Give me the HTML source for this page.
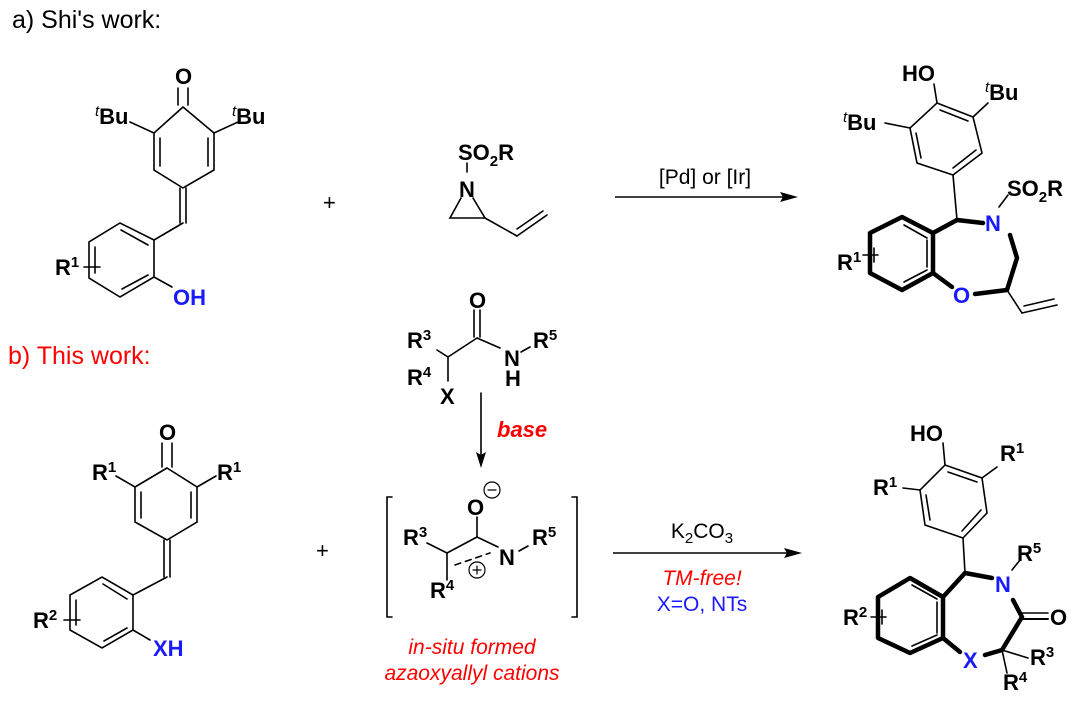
<!DOCTYPE html>
<html><head><meta charset="utf-8"><style>
html,body{margin:0;padding:0;background:#fff;}
svg{display:block;}
text{font-family:"Liberation Sans",Arial,sans-serif;}
.a{font-weight:bold;font-size:22px;fill:#000;}
.b{fill:#1a1aff;}
.sup{font-size:15px;}
.it{font-style:italic;font-weight:normal;}
.t{stroke:#000;stroke-width:1.6;fill:none;stroke-linecap:round;}
.k{stroke:#000;stroke-width:4.5;fill:none;stroke-linecap:round;stroke-linejoin:round;}
</style></head><body>
<svg width="1080" height="701" viewBox="0 0 1080 701" xmlns="http://www.w3.org/2000/svg">
<text x="12" y="28" font-size="25">a) Shi's work:</text>
<text x="8" y="364" font-size="25" fill="#ff0000">b) This work:</text>

<!-- Struct 1 -->
<g class="t">
<line x1="178" y1="88" x2="178" y2="105"/><line x1="188" y1="88" x2="188" y2="105"/>
<polyline points="183,107 154,133 154,170 183,188 214,170 214,133 183,107"/>
<line x1="160" y1="138" x2="160" y2="166"/><line x1="208" y1="138" x2="208" y2="166"/>
<line x1="154" y1="133" x2="130" y2="122"/><line x1="214" y1="133" x2="238" y2="122"/>
<line x1="180" y1="188" x2="180" y2="223"/><line x1="186" y1="188" x2="186" y2="223"/>
<line x1="183" y1="223" x2="154" y2="240"/>
<polygon points="154,240 154,277 120,297 89,278 89,242 120,223"/>
<line x1="121" y1="230" x2="148" y2="245"/><line x1="122" y1="289" x2="148" y2="275"/><line x1="95" y1="247" x2="95" y2="273"/>
<line x1="154" y1="277" x2="172" y2="287"/>
<line x1="84" y1="267" x2="100" y2="267"/>
</g>
<text class="a" x="175" y="84">O</text>
<text class="a" x="95" y="124"><tspan class="sup it" dy="-8">t</tspan><tspan dy="8">Bu</tspan></text>
<text class="a" x="232" y="124"><tspan class="sup it" dy="-8">t</tspan><tspan dy="8">Bu</tspan></text>
<text class="a" x="55" y="275">R<tspan class="sup" dy="-8">1</tspan></text>
<text class="a b" x="173" y="305">OH</text>

<text x="323" y="210" font-size="22">+</text>

<!-- Aziridine -->
<g class="t">
<line x1="467" y1="163" x2="467" y2="172"/>
<polyline points="461,198 450,218 485,218 473,198"/>
<line x1="485" y1="218" x2="517" y2="236"/><line x1="517" y1="236" x2="547" y2="215"/><line x1="517" y1="229" x2="543" y2="211"/>
</g>
<text class="a" x="458" y="160">SO<tspan class="sup" dy="6">2</tspan><tspan dy="-6">R</tspan></text>
<text class="a" x="459" y="197">N</text>

<line x1="615" y1="197" x2="788" y2="197" stroke="#000" stroke-width="1.6"/>
<polygon points="798,197 780,192 783,197 780,202" fill="#000"/>
<text x="705" y="184" font-size="21" text-anchor="middle">[Pd] or [Ir]</text>

<!-- Product 1 -->
<g class="t">
<line x1="934" y1="84" x2="937" y2="103"/>
<polygon points="937,103 973,117 982,153 953,175 917,163 910,128"/>
<line x1="940" y1="110" x2="968" y2="121"/><line x1="976" y1="150" x2="953" y2="168"/><line x1="916" y1="133" x2="921" y2="158"/>
<line x1="910" y1="128" x2="885" y2="123"/><line x1="973" y1="117" x2="988" y2="103"/>
<line x1="953" y1="175" x2="957" y2="220"/>
<line x1="999" y1="207" x2="1008" y2="195"/>
<line x1="1007" y1="290" x2="1022" y2="313"/><line x1="1022" y1="313" x2="1057" y2="305"/><line x1="1024" y1="306" x2="1054" y2="299"/>
<line x1="927" y1="240" x2="927" y2="267"/><line x1="904" y1="282" x2="927" y2="270"/><line x1="904" y1="225" x2="927" y2="238"/>
<line x1="863" y1="255" x2="878" y2="255"/><line x1="874" y1="248" x2="874" y2="262"/>
</g>
<g class="k">
<polyline points="957,220 933,233 933,273 902,290 870,273 870,233 902,217 933,233"/>
<line x1="957" y1="220" x2="983" y2="223"/>
<polyline points="1010,235 1017,258 1007,290 975,294"/>
<line x1="933" y1="273" x2="952" y2="287"/>
</g>
<text class="a" x="902" y="81">HO</text>
<text class="a" x="843" y="130"><tspan class="sup it" dy="-8">t</tspan><tspan dy="8">Bu</tspan></text>
<text class="a" x="985" y="100"><tspan class="sup it" dy="-8">t</tspan><tspan dy="8">Bu</tspan></text>
<text class="a b" x="985" y="231">N</text>
<text class="a" x="1007" y="196">SO<tspan class="sup" dy="6">2</tspan><tspan dy="-6">R</tspan></text>
<text class="a b" x="953" y="303">O</text>
<text class="a" x="837" y="270">R<tspan class="sup" dy="-8">1</tspan></text>

<!-- Bottom-left struct -->
<g class="t">
<line x1="162" y1="443" x2="162" y2="467"/><line x1="172" y1="443" x2="172" y2="467"/>
<polyline points="167,468 135,487 135,522 167,540 197,522 197,487 167,468"/>
<line x1="141" y1="492" x2="141" y2="518"/><line x1="191" y1="492" x2="191" y2="518"/>
<line x1="135" y1="487" x2="116" y2="476"/><line x1="197" y1="487" x2="216" y2="476"/>
<line x1="164" y1="540" x2="164" y2="577"/><line x1="170" y1="540" x2="170" y2="577"/>
<line x1="167" y1="577" x2="133" y2="595"/>
<polygon points="133,595 133,630 102,648 70,630 70,595 102,577"/>
<line x1="103" y1="584" x2="127" y2="599"/><line x1="104" y1="641" x2="127" y2="628"/><line x1="76" y1="600" x2="76" y2="625"/>
<line x1="133" y1="630" x2="150" y2="640"/>
<line x1="64" y1="620" x2="80" y2="620"/>
</g>
<text class="a" x="159" y="440">O</text>
<text class="a" x="92" y="480">R<tspan class="sup" dy="-8">1</tspan></text>
<text class="a" x="217" y="480">R<tspan class="sup" dy="-8">1</tspan></text>
<text class="a" x="33" y="628">R<tspan class="sup" dy="-8">2</tspan></text>
<text class="a b" x="153" y="656">XH</text>

<text x="316" y="558" font-size="22">+</text>

<!-- amide -->
<g class="t">
<line x1="474" y1="310" x2="474" y2="337"/><line x1="480" y1="310" x2="480" y2="337"/>
<line x1="477" y1="338" x2="448" y2="357"/><line x1="477" y1="338" x2="500" y2="348"/>
<line x1="448" y1="357" x2="448" y2="381"/><line x1="448" y1="357" x2="437" y2="350"/>
<line x1="521" y1="352" x2="530" y2="347"/>
<line x1="481" y1="393" x2="481" y2="458"/>
<polyline points="392,497 387,497 387,617 392,617"/>
<polyline points="572,497 577,497 577,617 572,617"/>
<line x1="477" y1="517" x2="477" y2="537"/>
<line x1="477" y1="537" x2="447" y2="553"/><line x1="477" y1="537" x2="498" y2="547"/>
<line x1="447" y1="553" x2="427" y2="543"/><line x1="447" y1="553" x2="447" y2="580"/>
<line x1="519" y1="551" x2="528" y2="546"/>
<line x1="455" y1="565" x2="490" y2="553" stroke-dasharray="6,5"/>
<circle cx="492" cy="490" r="8" stroke-width="1.2"/><line x1="488" y1="490" x2="496" y2="490" stroke-width="1.2"/>
<circle cx="477" cy="570" r="8" stroke-width="1.2"/><line x1="473" y1="570" x2="481" y2="570" stroke-width="1.2"/><line x1="477" y1="566" x2="477" y2="574" stroke-width="1.2"/>
</g>
<polygon points="481,468 476,452 481,455 486,452" fill="#000"/>
<text class="a" x="469" y="308">O</text>
<text class="a" x="407" y="348">R<tspan class="sup" dy="-8">3</tspan></text>
<text class="a" x="407" y="385">R<tspan class="sup" dy="-8">4</tspan></text>
<text class="a" x="440" y="404">X</text>
<text class="a" x="504" y="366">N</text>
<text class="a" x="505" y="386">H</text>
<text class="a" x="533" y="348">R<tspan class="sup" dy="-8">5</tspan></text>
<text x="497" y="437" font-size="22" font-weight="bold" font-style="italic" fill="#ff0000">base</text>
<text class="a" x="467" y="515">O</text>
<text class="a" x="403" y="545">R<tspan class="sup" dy="-8">3</tspan></text>
<text class="a" x="499" y="565">N</text>
<text class="a" x="532" y="545">R<tspan class="sup" dy="-8">5</tspan></text>
<text class="a" x="430" y="598">R<tspan class="sup" dy="-8">4</tspan></text>
<text x="472" y="654" font-size="21" font-style="italic" fill="#ff0000" text-anchor="middle">in-situ formed</text>
<text x="472" y="680" font-size="21" font-style="italic" fill="#ff0000" text-anchor="middle">azaoxyallyl cations</text>

<line x1="613" y1="553" x2="792" y2="553" stroke="#000" stroke-width="1.6"/>
<polygon points="802,553 784,548 787,553 784,558" fill="#000"/>
<text x="702" y="538" font-size="21" text-anchor="middle">K<tspan font-size="15" dy="5">2</tspan><tspan dy="-5">CO</tspan><tspan font-size="15" dy="5">3</tspan></text>
<text x="702" y="585" font-size="21" font-style="italic" fill="#ff0000" text-anchor="middle">TM-free!</text>
<text x="702" y="611" font-size="21" fill="#1a1aff" text-anchor="middle">X=O, NTs</text>

<!-- Product 2 -->
<g class="t">
<line x1="943" y1="443" x2="945" y2="465"/>
<polygon points="945,465 982,478 987,513 963,538 925,525 920,490"/>
<line x1="948" y1="472" x2="977" y2="482"/><line x1="981" y1="510" x2="962" y2="531"/><line x1="926" y1="495" x2="930" y2="520"/>
<line x1="920" y1="490" x2="903" y2="488"/><line x1="982" y1="478" x2="997" y2="467"/>
<line x1="963" y1="538" x2="965" y2="573"/>
<line x1="1012" y1="570" x2="1020" y2="560"/>
<line x1="1022" y1="613" x2="1048" y2="613"/>
<line x1="1002" y1="650" x2="1028" y2="658"/><line x1="1002" y1="650" x2="1007" y2="673"/>
<line x1="937" y1="602" x2="937" y2="633"/><line x1="912" y1="646" x2="937" y2="635"/><line x1="912" y1="585" x2="937" y2="599"/>
<line x1="871" y1="617" x2="886" y2="617"/><line x1="882" y1="610" x2="882" y2="624"/>
</g>
<g class="k">
<polyline points="965,573 943,597 943,638 910,653 878,638 878,597 910,578 943,597"/>
<line x1="965" y1="573" x2="992" y2="578"/>
<polyline points="1013,600 1022,617 1002,650 985,655"/>
<line x1="1022" y1="619" x2="1048" y2="619" stroke-width="2"/>
<line x1="943" y1="638" x2="960" y2="652"/>
</g>
<text class="a" x="910" y="441">HO</text>
<text class="a" x="873" y="495">R<tspan class="sup" dy="-8">1</tspan></text>
<text class="a" x="1000" y="461">R<tspan class="sup" dy="-8">1</tspan></text>
<text class="a b" x="995" y="592">N</text>
<text class="a" x="1017" y="561">R<tspan class="sup" dy="-8">5</tspan></text>
<text class="a" x="1050" y="625">O</text>
<text class="a b" x="963" y="668">X</text>
<text class="a" x="1030" y="665">R<tspan class="sup" dy="-8">3</tspan></text>
<text class="a" x="1003" y="690">R<tspan class="sup" dy="-8">4</tspan></text>
<text class="a" x="843" y="625">R<tspan class="sup" dy="-8">2</tspan></text>
</svg>
</body></html>
